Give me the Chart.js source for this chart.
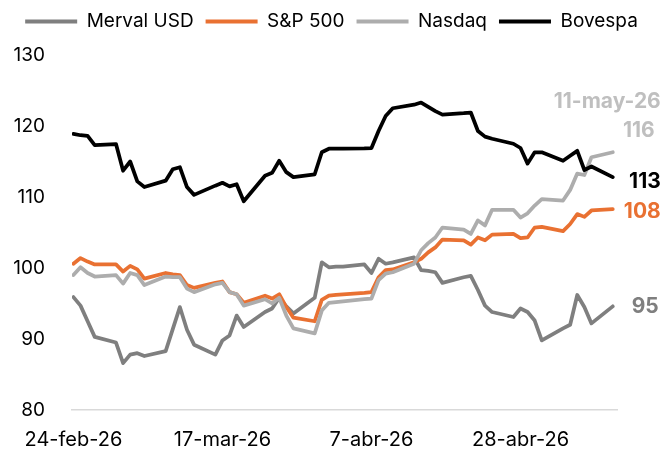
<!DOCTYPE html>
<html><head><meta charset="utf-8">
<script src="https://cdn.jsdelivr.net/npm/chart.js@4.4.1/dist/chart.umd.min.js"></script>
<style>html,body{margin:0;padding:0;background:#fff}#wrap{width:663px;height:455px}</style>
</head><body><div id="wrap"><canvas id="c" width="663" height="455"></canvas></div>
<script>
const dates = [
 '2026-02-24','2026-02-25','2026-02-26','2026-02-27',
 '2026-03-02','2026-03-03','2026-03-04','2026-03-05','2026-03-06',
 '2026-03-09','2026-03-10','2026-03-11','2026-03-12','2026-03-13',
 '2026-03-16','2026-03-17','2026-03-18','2026-03-19','2026-03-20',
 '2026-03-23','2026-03-24','2026-03-25','2026-03-26','2026-03-27',
 '2026-03-30','2026-03-31','2026-04-01','2026-04-02','2026-04-03',
 '2026-04-06','2026-04-07','2026-04-08','2026-04-09','2026-04-10',
 '2026-04-13','2026-04-14','2026-04-15','2026-04-16','2026-04-17',
 '2026-04-20','2026-04-21','2026-04-22','2026-04-23','2026-04-24',
 '2026-04-27','2026-04-28','2026-04-29','2026-04-30','2026-05-01',
 '2026-05-04','2026-05-05','2026-05-06','2026-05-07','2026-05-08',
 '2026-05-11'];
const merval = [95.9,94.7,92.5,90.3,
 89.5,86.6,87.8,88.0,87.6, 88.3,91.4,94.5,91.3,89.2, 87.8,89.8,90.5,93.3,91.7,
 93.8,94.3,95.8,94.6,93.6, 95.8,100.8,100.1,100.2,100.2, 100.5,99.3,101.3,100.6,100.8,
 101.5,99.7,99.6,99.4,97.9, 98.7,98.9,96.9,94.7,93.8, 93.1,94.3,93.8,92.6,89.8,
 91.5,92.0,96.2,94.5,92.2, 94.6];
const sp500 = [100.6,101.4,100.9,100.5,
 100.5,99.5,100.3,99.8,98.5, 99.3,99.1,99.0,97.6,97.2, 97.9,98.1,96.6,96.3,95.1,
 96.1,95.7,96.3,94.5,93.0, 92.5,95.5,96.1,96.2,96.3, 96.5,96.6,98.7,99.7,99.8,
 100.8,101.3,102.2,102.9,104.0, 103.9,103.3,104.3,103.9,104.7, 104.8,104.2,104.3,105.7,105.8,
 105.2,106.2,107.6,107.2,108.1, 108.3];
const nasdaq = [99.0,100.1,99.3,98.8,
 99.0,97.8,99.3,99.0,97.6, 98.8,98.7,98.7,97.1,96.6, 97.7,97.9,96.6,96.3,94.7,
 95.6,95.0,95.8,93.3,91.5, 90.8,94.0,95.1,95.2,95.3, 95.6,95.7,98.3,99.2,99.4,
 100.6,102.5,103.5,104.3,105.7, 105.4,104.8,106.7,106.0,108.2, 108.2,107.1,107.7,108.8,109.7,
 109.5,111.0,113.3,113.1,115.6, 116.3];
const bovespa = [118.9,118.7,118.6,117.3,
 117.45,113.7,115.0,112.2,111.4, 112.3,113.9,114.2,111.4,110.3, 111.6,112.0,111.5,111.8,109.4,
 113.0,113.4,115.1,113.5,112.8, 113.2,116.3,116.8,116.8,116.8, 116.85,116.9,119.3,121.4,122.5,
 123.0,123.3,122.7,122.1,121.6, 121.8,121.9,119.3,118.5,118.2, 117.5,116.9,114.7,116.3,116.3,
 115.1,115.8,116.5,113.8,114.3, 112.8];
const seriesNames = ['Merval USD','S&P 500','Nasdaq','Bovespa'];
const tickDates = ['2026-02-24','2026-03-17','2026-04-07','2026-04-28'];
const tickLabels = ['24-feb-26','17-mar-26','7-abr-26','28-abr-26'];
const endDateLabel = '11-may-26';
const yTicks = [80,90,100,110,120,130];

const COLORS = ['#7F7F7F','#E97132','#ADADAD','#000000'];
const LABEL_COLORS = ['#7F7F7F','#E97132','#BFBFBF','#000000'];
const FONT = 'Inter';

const DAY = 86400000;
const t0 = Date.parse(dates[0]);
const dayOf = d => Math.round((Date.parse(d) - t0) / DAY);
const xs = dates.map(dayOf);
const tickDays = tickDates.map(dayOf);
const lastDay = xs[xs.length - 1];

const allSeries = [merval, sp500, nasdaq, bovespa];
const datasets = allSeries.map((arr, i) => ({
  label: seriesNames[i],
  data: arr.map((v, j) => ({x: xs[j], y: v})),
  borderColor: COLORS[i],
  backgroundColor: COLORS[i],
  borderWidth: 3.75,
  pointRadius: 0,
  tension: 0,
  fill: false,
  borderJoinStyle: 'round',
  borderCapStyle: 'round',
  order: allSeries.length - i
}));

// label offsets relative to the last point of each series
const endLabelSpec = [
  {dx: 46, dy: 0},
  {dx: 48, dy: 3},
  {dx: 42, dy: -22, extra: endDateLabel, edx: 48, edy: -51},
  {dx: 48, dy: 5}
];

const endLabels = {
  id: 'endLabels',
  afterDatasetsDraw(chart) {
    const ctx = chart.ctx;
    ctx.save();
    ctx.font = 'bold 21px ' + FONT;
    ctx.textAlign = 'right';
    ctx.textBaseline = 'middle';
    chart.data.datasets.forEach((ds, i) => {
      const meta = chart.getDatasetMeta(i);
      const pt = meta.data[meta.data.length - 1];
      const v = allSeries[i][allSeries[i].length - 1];
      const s = endLabelSpec[i];
      ctx.fillStyle = LABEL_COLORS[i];
      ctx.fillText(String(Math.round(v)), pt.x + s.dx, pt.y + s.dy);
      if (s.extra) ctx.fillText(s.extra, pt.x + s.edx, pt.y + s.edy);
    });
    ctx.restore();
  }
};

// extra room under the legend
const legendSpacer = {
  id: 'legendSpacer',
  beforeLayout(chart) {
    const lg = chart.legend;
    if (lg && !lg._spaced) {
      const orig = lg.fit;
      lg.fit = function() { orig.call(this); this.height += 14; };
      lg._spaced = true;
    }
  }
};

new Chart(document.getElementById('c'), {
  type: 'line',
  data: {datasets},
  options: {
    responsive: false,
    devicePixelRatio: 1,
    animation: false,
    layout: {padding: {left: 0, right: 0, top: 0, bottom: 0}},
    plugins: {
      tooltip: {enabled: false},
      legend: {
        position: 'top',
        align: 'center',
        labels: {
          color: '#000',
          font: {family: FONT, size: 19},
          boxWidth: 52,
          boxHeight: 4,
          padding: 12,
          sort: (a, b) => a.datasetIndex - b.datasetIndex,
          generateLabels(chart) {
            const items = Chart.defaults.plugins.legend.labels.generateLabels(chart);
            items.forEach(it => { it.lineWidth = 0; it.fillStyle = COLORS[it.datasetIndex]; });
            return items;
          }
        }
      }
    },
    scales: {
      x: {
        type: 'linear',
        min: -0.2,
        max: lastDay + 0.6,
        grid: {display: false, drawTicks: false},
        border: {display: true, color: '#D9D9D9', width: 1.5},
        afterBuildTicks: s => { s.ticks = tickDays.map(v => ({value: v})); },
        afterFit: s => { s.height = 45; },
        ticks: {
          autoSkip: false, maxRotation: 0, padding: 18,
          color: '#000', font: {family: FONT, size: 20},
          callback: v => tickLabels[tickDays.indexOf(v)]
        }
      },
      y: {
        min: 80, max: 130,
        grid: {display: false, drawTicks: false},
        border: {display: false},
        afterBuildTicks: s => { s.ticks = yTicks.map(v => ({value: v})); },
        afterFit: s => { s.width = 72; },
        ticks: {padding: 27, color: '#000', font: {family: FONT, size: 19}}
      },
      yRight: {
        position: 'right',
        display: true,
        min: 80, max: 130,
        grid: {display: false, drawTicks: false},
        border: {display: false},
        ticks: {display: false},
        afterFit: s => { s.width = 46; }
      }
    }
  },
  plugins: [endLabels, legendSpacer]
});
</script></body></html>
